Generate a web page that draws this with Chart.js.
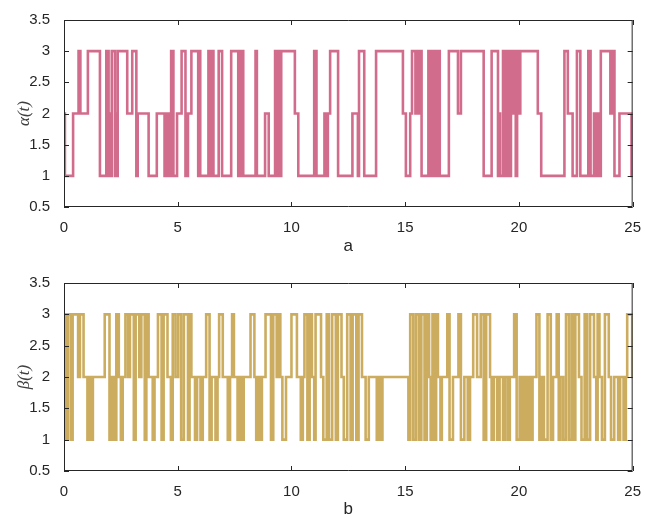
<!DOCTYPE html>
<html>
<head>
<meta charset="utf-8">
<script src="https://cdn.jsdelivr.net/npm/chart.js@4.4.0/dist/chart.umd.min.js"></script>
<style>
  body { margin: 0; background: #fff; width: 645px; height: 518px; overflow: hidden; position: relative; }
  .panel { position: absolute; left: 0; width: 645px; height: 259px; }
</style>
</head>
<body>
<div class="panel" style="top:0"><canvas id="alpha-chart" width="645" height="259"></canvas></div>
<div class="panel" style="top:259px"><canvas id="beta-chart" width="645" height="259"></canvas></div>
<script>
// switching times and the state that starts at each time (rows of 10)
const alphaTimes = [
  0, 0.04, 0.4, 0.64, 0.72, 1.05, 1.58, 1.86, 1.96, 2.01,
  2.05, 2.1, 2.24, 2.28, 2.32, 2.36, 2.78, 3.0, 3.18, 3.24,
  3.72, 4.08, 4.42, 4.5, 4.56, 4.62, 4.67, 4.71, 4.81, 4.97,
  5.17, 5.34, 5.45, 5.6, 5.9, 5.94, 5.99, 6.35, 6.4, 6.45,
  6.5, 6.53, 6.57, 6.8, 6.95, 7.35, 7.66, 7.7, 7.76, 7.8,
  7.88, 8.42, 8.48, 8.84, 9.0, 9.28, 9.32, 9.36, 9.4, 9.45,
  9.5, 9.55, 10.15, 10.3, 11.0, 11.1, 11.45, 11.52, 11.6, 11.7,
  12.05, 12.68, 12.92, 12.97, 13.2, 13.72, 14.9, 15.03, 15.22, 15.3,
  15.45, 15.52, 15.6, 15.66, 15.72, 16.02, 16.07, 16.11, 16.16, 16.2,
  16.26, 16.3, 16.36, 16.42, 16.52, 16.92, 17.32, 17.45, 18.45, 18.8,
  19.08, 19.13, 19.17, 19.3, 19.4, 19.5, 19.56, 19.65, 19.7, 19.78,
  19.86, 19.92, 20.0, 20.06, 20.83, 20.98, 22.0, 22.15, 22.36, 22.55,
  22.7, 23.05, 23.15, 23.3, 23.38, 23.45, 23.52, 23.6, 24.02, 24.1,
  24.2, 24.42, 24.95
];
const alphaValues = [
  2, 1, 2, 3, 2, 3, 1, 3, 1, 2,
  1, 3, 1, 2, 1, 3, 2, 3, 1, 2,
  1, 2, 1, 2, 1, 2, 1, 3, 1, 2,
  3, 1, 2, 3, 1, 3, 1, 3, 1, 3,
  1, 3, 1, 3, 1, 3, 1, 3, 1, 3,
  1, 3, 1, 2, 1, 3, 1, 3, 1, 3,
  1, 3, 2, 1, 3, 1, 2, 1, 2, 3,
  1, 2, 1, 3, 1, 3, 2, 1, 2, 3,
  2, 3, 2, 3, 1, 3, 1, 3, 1, 3,
  1, 3, 1, 3, 1, 3, 2, 3, 1, 3,
  1, 2, 1, 3, 1, 3, 1, 3, 2, 3,
  1, 3, 2, 3, 2, 1, 3, 2, 1, 3,
  1, 3, 1, 2, 1, 2, 1, 3, 2, 3,
  1, 2, 1
];

const betaTimes = [
  0, 0.06, 0.17, 0.3, 0.38, 0.62, 0.7, 0.86, 1.03, 1.12,
  1.2, 1.27, 1.79, 2.0, 2.1, 2.2, 2.3, 2.41, 2.5, 2.58,
  2.7, 2.82, 2.9, 3.07, 3.15, 3.31, 3.4, 3.55, 3.62, 3.72,
  3.9, 3.98, 4.13, 4.29, 4.38, 4.55, 4.7, 4.78, 4.9, 5.02,
  5.15, 5.27, 5.45, 5.52, 5.6, 5.76, 5.85, 6.0, 6.1, 6.25,
  6.4, 6.49, 6.66, 6.75, 6.82, 6.98, 7.2, 7.3, 7.39, 7.47,
  7.63, 7.72, 7.8, 7.9, 8.2, 8.37, 8.45, 8.55, 8.61, 8.7,
  8.86, 9.1, 9.2, 9.35, 9.45, 9.51, 9.6, 9.76, 10.0, 10.24,
  10.41, 10.5, 10.57, 10.7, 10.8, 10.9, 11.0, 11.06, 11.3, 11.4,
  11.55, 11.65, 11.79, 11.95, 12.04, 12.2, 12.3, 12.45, 12.6, 12.69,
  12.85, 12.95, 13.1, 13.26, 13.4, 13.75, 13.85, 13.92, 14.0, 15.14,
  15.22, 15.35, 15.47, 15.6, 15.71, 15.85, 15.95, 16.05, 16.12, 16.2,
  16.28, 16.36, 16.44, 16.55, 16.61, 16.85, 16.95, 17.1, 17.34, 17.45,
  17.6, 17.75, 17.85, 17.99, 18.16, 18.32, 18.45, 18.56, 18.73, 18.8,
  18.9, 19.05, 19.15, 19.3, 19.38, 19.5, 19.6, 19.79, 19.9, 20.03,
  20.1, 20.2, 20.3, 20.4, 20.5, 20.6, 20.77, 20.9, 21.01, 21.1,
  21.26, 21.4, 21.5, 21.66, 21.75, 21.83, 21.95, 22.07, 22.2, 22.32,
  22.4, 22.48, 22.64, 22.75, 22.89, 23.0, 23.13, 23.3, 23.4, 23.46,
  23.54, 23.65, 23.78, 23.95, 24.05, 24.19, 24.36, 24.45, 24.6, 24.7,
  24.76, 24.98
];
const betaValues = [
  3, 1, 3, 1, 3, 2, 3, 2, 1, 2,
  1, 2, 3, 1, 2, 1, 3, 2, 1, 2,
  3, 2, 3, 1, 3, 2, 3, 1, 3, 2,
  1, 2, 3, 1, 3, 2, 1, 3, 2, 3,
  1, 3, 1, 3, 2, 1, 2, 1, 2, 3,
  1, 2, 1, 2, 3, 2, 1, 2, 3, 2,
  1, 2, 1, 2, 3, 2, 1, 2, 1, 2,
  3, 1, 3, 2, 3, 2, 1, 2, 3, 2,
  1, 2, 3, 1, 3, 2, 1, 3, 2, 1,
  3, 1, 3, 1, 3, 2, 1, 3, 1, 3,
  1, 3, 2, 1, 2, 1, 2, 1, 2, 1,
  3, 1, 3, 1, 3, 1, 3, 2, 1, 3,
  1, 3, 2, 1, 2, 3, 1, 2, 3, 1,
  2, 1, 2, 3, 2, 3, 1, 3, 2, 1,
  2, 1, 2, 1, 2, 1, 2, 3, 1, 2,
  1, 2, 1, 2, 1, 2, 3, 1, 2, 1,
  3, 1, 2, 3, 1, 2, 1, 3, 1, 3,
  1, 3, 2, 1, 3, 1, 3, 2, 1, 3,
  2, 1, 3, 2, 1, 2, 1, 2, 1, 2,
  3, 2
];

const xTicks = [0, 5, 10, 15, 20, 25];
const yTicks = [0.5, 1, 1.5, 2, 2.5, 3, 3.5];
const tEnd = 25;

const boxTicks = {
  id: 'boxTicks',
  afterDatasetsDraw(chart) {
    const { ctx, chartArea: a, scales: { x, y } } = chart;
    ctx.save();
    ctx.strokeStyle = '#262626';
    ctx.lineWidth = 1;
    ctx.beginPath();
    ctx.rect(a.left + 0.5, a.top + 0.5, a.right - a.left - 1, a.bottom - a.top - 1);
    xTicks.forEach(v => {
      const px = Math.round(x.getPixelForValue(v)) + 0.5;
      ctx.moveTo(px, a.bottom); ctx.lineTo(px, a.bottom - 5);
      ctx.moveTo(px, a.top); ctx.lineTo(px, a.top + 5);
    });
    yTicks.forEach(v => {
      const py = Math.round(y.getPixelForValue(v)) + 0.5;
      ctx.moveTo(a.left, py); ctx.lineTo(a.left + 5, py);
      ctx.moveTo(a.right, py); ctx.lineTo(a.right - 5, py);
    });
    ctx.stroke();
    ctx.restore();
  }
};

function makeChart(id, times, values, color, yLabel, xLabel, padTop, xHeight, titlePad) {
  const pts = times.map((t, i) => ({ x: t, y: values[i] }));
  pts.push({ x: tEnd, y: values[values.length - 1] });
  return new Chart(document.getElementById(id), {
    type: 'line',
    data: {
      datasets: [{
        data: pts,
        borderColor: color,
        borderWidth: 2.6,
        stepped: true,
        pointRadius: 0,
        fill: false,
        borderJoinStyle: 'miter'
      }]
    },
    options: {
      responsive: false,
      animation: false,
      devicePixelRatio: 1,
      layout: { padding: { left: 0, right: 8, top: padTop, bottom: 0 } },
      plugins: { legend: { display: false }, tooltip: { enabled: false } },
      scales: {
        x: {
          type: 'linear', min: 0, max: 25,
          afterBuildTicks: s => { s.ticks = xTicks.map(v => ({ value: v })); },
          afterFit: s => { s.height = xHeight; },
          grid: { display: false },
          border: { display: false },
          ticks: { color: '#262626', font: { family: 'Liberation Sans', size: 15 }, padding: 4, maxRotation: 0, callback: v => String(v) },
          title: { display: true, text: xLabel, color: '#262626', font: { family: 'Liberation Sans', size: 17, lineHeight: 1 }, padding: { top: 0, bottom: titlePad } }
        },
        y: {
          min: 0.5, max: 3.5,
          afterBuildTicks: s => { s.ticks = yTicks.map(v => ({ value: v })); },
          afterFit: s => { s.width = 64; },
          grid: { display: false },
          border: { display: false },
          ticks: { color: '#262626', font: { family: 'Liberation Sans', size: 15 }, padding: 6, callback: v => String(v) },
          title: { display: true, text: yLabel, color: '#404040', font: { family: 'Liberation Serif', size: 17, style: 'italic' }, padding: { top: 14 } }
        }
      }
    },
    plugins: [boxTicks]
  });
}

makeChart('alpha-chart', alphaTimes, alphaValues, '#d26c8c', 'α(t)', 'a', 20, 52, 4);
makeChart('beta-chart', betaTimes, betaValues, '#ccad60', 'β(t)', 'b', 24, 47, 0);
</script>
</body>
</html>
